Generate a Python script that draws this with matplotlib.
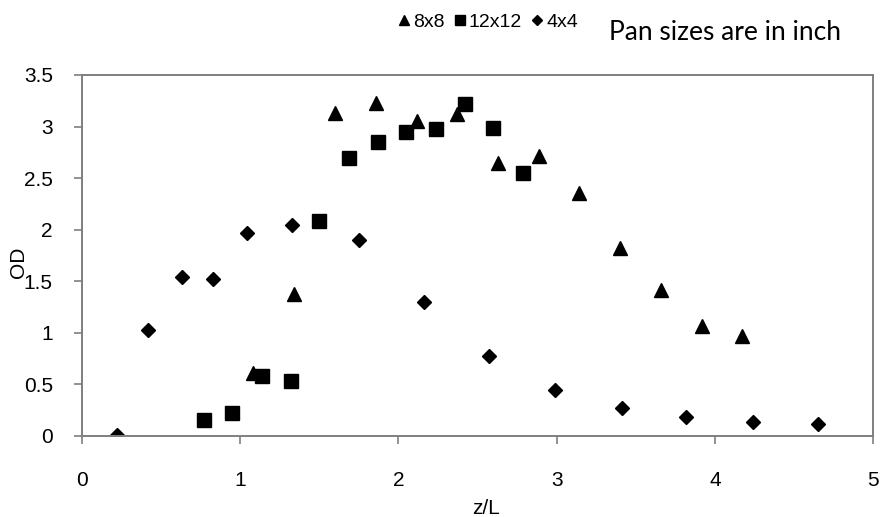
import matplotlib.pyplot as plt

# 8x8 pan (triangles)
x_8 = [1.08, 1.34, 1.60, 1.86, 2.12, 2.37, 2.63, 2.89, 3.14, 3.40, 3.66, 3.92, 4.17]
y_8 = [0.61, 1.38, 3.13, 3.23, 3.05, 3.12, 2.65, 2.71, 2.36, 1.82, 1.41, 1.07, 0.97]

# 12x12 pan (squares)
x_12 = [0.77, 0.95, 1.14, 1.32, 1.50, 1.69, 1.87, 2.05, 2.24, 2.42, 2.60, 2.79]
y_12 = [0.155, 0.22, 0.58, 0.53, 2.08, 2.69, 2.85, 2.95, 2.98, 3.22, 2.99, 2.55]

# 4x4 pan (diamonds)
x_4 = [0.22, 0.42, 0.63, 0.83, 1.04, 1.33, 1.75, 2.16, 2.57, 2.99, 3.41, 3.82, 4.24, 4.65]
y_4 = [0.01, 1.03, 1.54, 1.52, 1.97, 2.04, 1.90, 1.30, 0.77, 0.44, 0.27, 0.18, 0.13, 0.11]

plt.rcParams['font.family'] = ['Liberation Sans', 'DejaVu Sans']

fig = plt.figure(figsize=(8.81, 5.17), dpi=100)
ax = fig.add_axes([0.0931, 0.157, 0.898, 0.698])

ax.plot(x_8, y_8, ls='none', marker='^', ms=9.5, color='black', label='8x8')
ax.plot(x_12, y_12, ls='none', marker='s', ms=9.5, color='black', label='12x12')
ax.plot(x_4, y_4, ls='none', marker='D', ms=7, color='black', label='4x4')

ax.set_xlim(0, 5)
ax.set_ylim(0, 3.5)
ax.set_xticks([0, 1, 2, 3, 4, 5])
ax.set_xticklabels(['0', '1', '2', '3', '4', '5'])
ax.set_yticks([0, 0.5, 1, 1.5, 2, 2.5, 3, 3.5])
ax.set_yticklabels(['0', '0.5', '1', '1.5', '2', '2.5', '3', '3.5'])

for s in ax.spines.values():
    s.set_color('#7f7f7f')
    s.set_linewidth(1.4)
ax.tick_params(direction='out', length=6, width=1.2, color='#7f7f7f',
               labelsize=15)
ax.tick_params(axis='x', pad=19)
ax.tick_params(axis='y', pad=15)

ax.set_xlabel('z/L', fontsize=15)
ax.xaxis.set_label_coords(0.51, -0.175)
ax.set_ylabel('OD', fontsize=15)
ax.yaxis.set_label_coords(-0.068, 0.48)

ax.legend(loc='center', bbox_to_anchor=(488 / 881, 1 - 22 / 517),
          bbox_transform=fig.transFigure, ncol=3, frameon=False,
          fontsize=14, handlelength=0.6, handletextpad=0.15,
          columnspacing=0.5, markerscale=0.75, borderaxespad=0)

fig.text(725 / 881, 1 - 32 / 517, 'Pan sizes are in inch', fontsize=19,
         family='Lato', ha='center', va='center')

fig.savefig('out.png', dpi=100)
